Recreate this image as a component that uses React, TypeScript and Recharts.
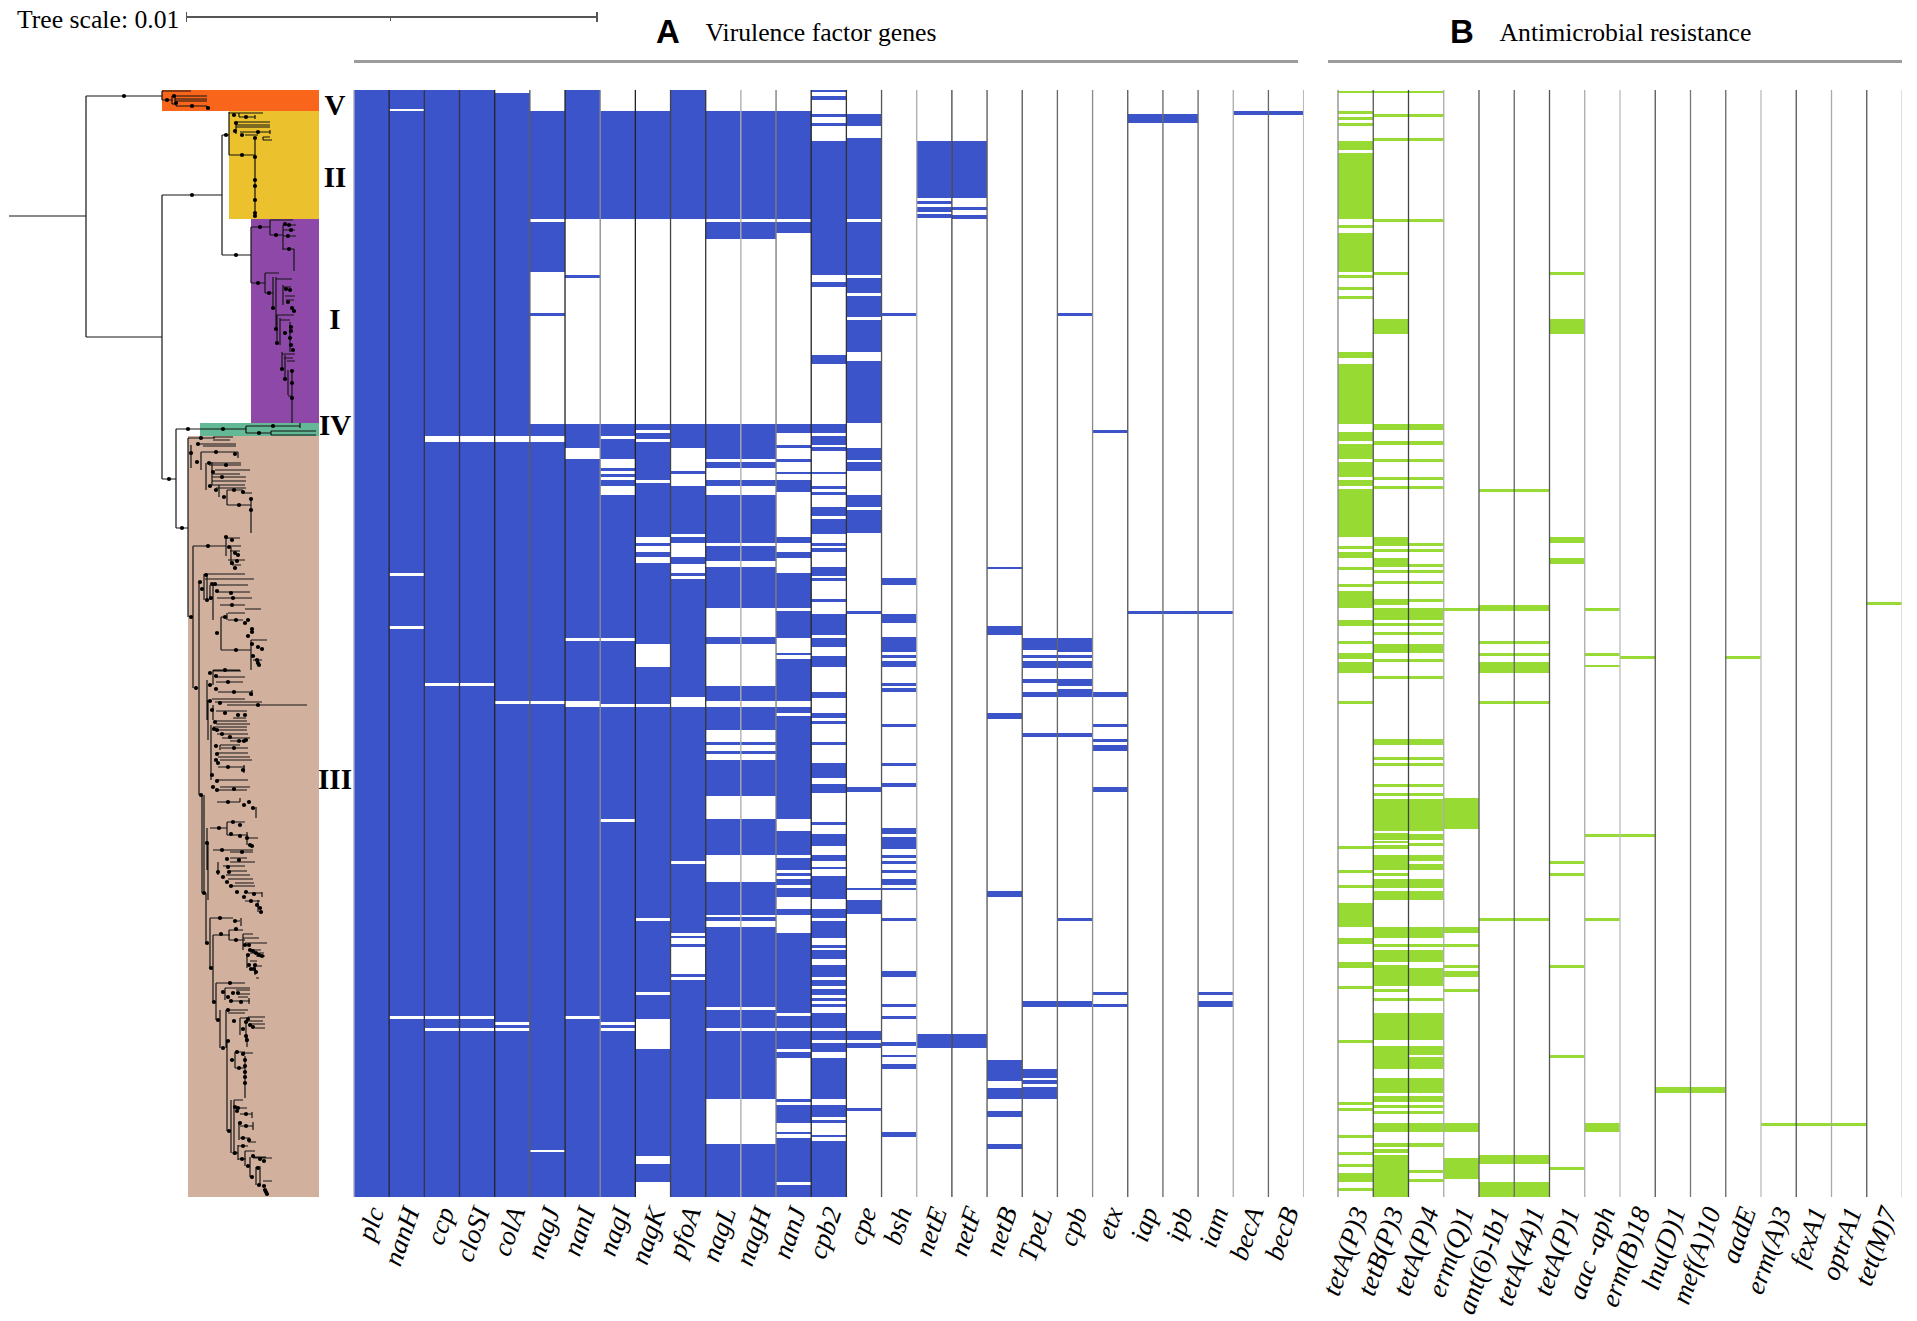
import { Bar, BarChart, ComposedChart, Line, ReferenceArea, ReferenceLine, Scatter, XAxis, YAxis } from 'recharts'

const SERIF = '"Liberation Serif", "Times New Roman", serif'
const BLUE = '#3b54c9'
const GREEN = '#96da33'

const rowCount = 1107

const virulenceGenes = ['plc', 'nanH', 'ccp', 'cloSI', 'colA', 'nagJ', 'nanI', 'nagI', 'nagK', 'pfoA', 'nagL', 'nagH', 'nanJ', 'cpb2', 'cpe', 'bsh', 'netE', 'netF', 'netB', 'TpeL', 'cpb', 'etx', 'iap', 'ipb', 'iam', 'becA', 'becB']
const resistanceGenes = ['tetA(P)3', 'tetB(P)3', 'tetA(P)4', 'erm(Q)1', 'ant(6)-Ib1', 'tetA(44)1', 'tetA(P)1', 'aac -aph', 'erm(B)18', 'lnu(D)1', 'mef(A)10', 'aadE', 'erm(A)3', 'fexA1', 'optrA1', 'tet(M)7']

const ccpRows = [[0, 346], [352, 593], [596, 926], [929, 938], [941, 1107]]
const nagLRows = [[21, 129], [132, 149], [334, 369], [372, 378], [390, 396], [405, 453], [456, 471], [477, 518], [547, 554], [596, 611], [617, 640], [652, 655], [661, 664], [670, 706], [729, 765], [792, 825], [827, 831], [837, 917], [920, 938], [941, 1009], [1054, 1107]]
const iapRows = [[24, 33], [521, 524]]
const becRows = [[21, 25]]
const netGroupRows = [[1065, 1074], [1092, 1107]]

const virulenceRows = [
  [[0, 1107]],
  [[0, 19], [21, 483], [486, 536], [539, 926], [929, 1107]],
  ccpRows,
  ccpRows,
  [[3, 346], [352, 611], [614, 932], [935, 938], [941, 1107]],
  [[21, 129], [132, 182], [223, 226], [334, 346], [352, 611], [614, 1060], [1062, 1107]],
  [[0, 129], [185, 188], [334, 358], [369, 548], [551, 611], [617, 926], [929, 1107]],
  [[21, 129], [334, 346], [349, 369], [378, 381], [384, 387], [390, 396], [405, 548], [551, 614], [617, 729], [732, 932], [935, 938], [941, 1107]],
  [[21, 129], [334, 340], [343, 349], [352, 390], [393, 447], [453, 456], [462, 467], [473, 554], [577, 614], [617, 828], [831, 902], [905, 929], [959, 1066], [1074, 1092]],
  [[0, 129], [334, 358], [381, 384], [396, 444], [447, 453], [467, 474], [483, 486], [489, 607], [617, 771], [774, 843], [846, 848], [854, 857], [884, 887], [890, 1107]],
  nagLRows,
  nagLRows,
  [[21, 129], [132, 143], [334, 343], [355, 358], [369, 372], [382, 384], [390, 402], [447, 453], [462, 468], [483, 518], [521, 548], [563, 565], [569, 611], [617, 623], [626, 729], [741, 765], [768, 780], [783, 786], [789, 795], [798, 807], [819, 825], [843, 923], [926, 938], [941, 959], [962, 968], [1009, 1012], [1015, 1033], [1042, 1044], [1048, 1092], [1095, 1107]],
  [[0, 2], [6, 10], [24, 27], [33, 36], [51, 185], [192, 197], [265, 274], [334, 343], [346, 355], [357, 361], [382, 384], [396, 399], [402, 405], [417, 426], [429, 444], [453, 456], [458, 462], [477, 486], [488, 491], [509, 512], [524, 545], [548, 557], [566, 577], [602, 608], [623, 628], [631, 634], [652, 655], [673, 688], [694, 703], [732, 735], [744, 756], [765, 771], [777, 779], [786, 809], [819, 828], [831, 848], [855, 858], [860, 869], [875, 887], [890, 896], [899, 905], [908, 911], [914, 917], [923, 938], [941, 950], [953, 962], [968, 1009], [1015, 1027], [1030, 1033], [1045, 1047], [1051, 1107]],
  [[24, 36], [48, 129], [132, 185], [188, 203], [206, 227], [230, 262], [271, 333], [358, 370], [372, 381], [405, 417], [420, 443], [521, 524], [697, 702], [798, 800], [810, 824], [941, 950], [953, 958], [1018, 1021]],
  [[223, 226], [488, 495], [524, 533], [547, 562], [565, 568], [571, 577], [593, 596], [598, 602], [634, 637], [673, 676], [693, 697], [738, 744], [747, 759], [765, 768], [771, 774], [780, 783], [789, 795], [798, 800], [828, 831], [881, 887], [914, 917], [926, 929], [952, 956], [965, 967], [974, 979], [1042, 1047]],
  [[51, 108], [111, 114], [117, 122], [124, 128], [944, 958]],
  [[51, 108], [117, 120], [125, 129], [944, 958]],
  [[477, 479], [536, 545], [623, 629], [801, 807], [970, 991], [998, 1009], [1021, 1027], [1054, 1059]],
  [[548, 560], [565, 568], [571, 578], [589, 593], [602, 607], [643, 647], [911, 917], [979, 988], [990, 994], [997, 1009]],
  [[223, 226], [548, 562], [565, 568], [571, 578], [589, 596], [599, 607], [643, 647], [828, 831], [911, 917]],
  [[340, 343], [602, 607], [634, 637], [649, 652], [655, 661], [697, 702], [902, 905], [914, 917]],
  iapRows,
  iapRows,
  [[521, 524], [902, 905], [911, 917]],
  becRows,
  becRows,
]

const tetA44Rows = [[399, 402], [515, 521], [551, 554], [563, 566], [572, 583], [611, 614], [828, 831], ...netGroupRows]
const lnuRows = [[997, 1003]]
const ermARows = [[1033, 1036]]

const resistanceRows = [
  [[1, 3], [21, 24], [27, 30], [33, 36], [51, 60], [63, 129], [135, 138], [143, 182], [185, 188], [197, 200], [206, 209], [262, 268], [274, 334], [342, 351], [354, 369], [372, 387], [390, 396], [399, 447], [456, 459], [462, 468], [477, 480], [494, 497], [501, 518], [530, 536], [551, 554], [563, 569], [572, 583], [611, 614], [756, 759], [780, 783], [795, 798], [813, 837], [848, 854], [872, 878], [896, 899], [950, 953], [1012, 1015], [1018, 1021], [1045, 1048], [1062, 1065], [1074, 1077], [1083, 1092], [1098, 1101]],
  [[1, 3], [24, 27], [48, 51], [129, 132], [182, 185], [229, 244], [334, 340], [351, 355], [369, 372], [387, 390], [396, 399], [447, 456], [459, 462], [468, 477], [480, 483], [491, 494], [509, 515], [518, 530], [533, 536], [542, 545], [554, 563], [569, 572], [586, 589], [649, 655], [667, 670], [673, 676], [694, 697], [703, 706], [709, 741], [743, 750], [751, 753], [755, 759], [765, 780], [783, 786], [789, 798], [801, 810], [837, 848], [854, 857], [860, 872], [875, 896], [899, 902], [908, 911], [923, 950], [956, 979], [988, 1003], [1006, 1012], [1015, 1018], [1021, 1024], [1033, 1042], [1053, 1057], [1059, 1063], [1065, 1107]],
  [[1, 3], [24, 27], [48, 51], [129, 132], [334, 340], [351, 355], [369, 372], [387, 390], [396, 399], [453, 456], [459, 462], [474, 477], [480, 483], [491, 494], [509, 512], [518, 530], [533, 536], [542, 545], [554, 563], [569, 572], [586, 589], [649, 655], [667, 670], [673, 676], [694, 697], [703, 706], [709, 741], [744, 750], [753, 756], [765, 771], [774, 780], [789, 798], [801, 810], [837, 848], [854, 857], [860, 872], [878, 896], [908, 911], [923, 950], [956, 965], [967, 979], [988, 1003], [1006, 1012], [1015, 1018], [1021, 1024], [1033, 1042], [1053, 1057], [1080, 1083], [1089, 1092]],
  [[518, 521], [708, 739], [837, 843], [854, 857], [875, 878], [881, 887], [899, 902], [1033, 1042], [1068, 1089]],
  tetA44Rows,
  tetA44Rows,
  [[182, 185], [229, 244], [447, 453], [468, 474], [771, 774], [783, 786], [875, 878], [965, 968], [1077, 1080]],
  [[518, 521], [563, 566], [575, 577], [744, 747], [828, 831], [1033, 1042]],
  [[566, 569], [744, 747]],
  lnuRows,
  lnuRows,
  [[566, 569]],
  ermARows,
  ermARows,
  ermARows,
  [[512, 515]],
]

// divider shades between the columns, they vary in the source
const virulenceLines = ['#aab', '#223', '#334', '#334', '#222', '#555', '#222', '#888', '#222', '#444', '#333', '#aaa', '#777', '#222', '#333', '#555', '#aaa', '#444', '#555', '#555', '#666', '#888', '#555', '#666', '#666', '#aaa', '#666', '#bbb']
const resistanceLines = ['#888', '#555', '#444', '#aaa', '#555', '#666', '#555', '#aaa', '#bbb', '#555', '#777', '#666', '#bbb', '#555', '#aaa', '#555', '#ccc']

// tree, in page pixels: horizontal [y, x1, x2], vertical [x, y1, y2]
const rootH = [[216, 9, 86], [96, 86, 162], [337, 86, 162], [195, 162, 222], [135, 222, 229], [255, 222, 251], [479, 162, 176], [429, 176, 246], [528, 176, 188], [426, 246, 300], [433, 246, 271], [431, 271, 316], [435, 271, 316]]
const rootV = [[86, 96, 337], [162, 195, 479], [222, 135, 255], [176, 429, 528], [246, 426, 433], [271, 431, 435], [300, 423, 428]]
const rootNodes = [[124, 96], [192, 195], [226, 135], [236, 255], [169, 479], [188, 429], [223, 429], [273, 426], [259, 433], [182, 528]]

const cladeVH = [[91, 162, 191], [100, 162, 172], [96, 172, 207], [99, 175, 207], [101, 175, 207], [104, 172, 176], [106, 176, 207], [108, 207, 210]]
const cladeVV = [[162, 91, 100], [172, 96, 104], [175, 96, 101], [176, 104, 106], [207, 106, 109]]
const cladeVNodes = [[167, 100], [174, 96], [176, 103], [192, 106], [208, 108]]

const cladeIIH = [[113, 229, 263], [117, 239, 255], [122, 236, 270], [125, 236, 270], [127, 236, 270], [132, 240, 270], [135, 245, 258], [137, 263, 270], [140, 263, 272], [155, 229, 255]]
const cladeIIV = [[229, 112, 155], [239, 113, 117], [255, 115, 119], [236, 122, 134], [270, 130, 134], [263, 137, 140], [255, 137, 217]]
const cladeIINodes = [[234, 115], [246, 117], [236, 123], [235, 131], [242, 135], [258, 132], [255, 138], [242, 155], [255, 157], [255, 180], [255, 186], [255, 200], [255, 213], [255, 216]]

const cladeIH = [[227, 251, 270], [220, 270, 293], [235, 270, 283], [225, 283, 296], [230, 283, 295], [236, 283, 296], [249, 283, 294], [283, 251, 265], [273, 265, 279], [293, 265, 273], [279, 276, 292], [287, 283, 291], [296, 285, 295], [300, 286, 294], [315, 276, 294], [320, 280, 290], [354, 282, 295], [358, 284, 293], [361, 287, 295], [396, 288, 292]]
const cladeIV = [[251, 227, 283], [270, 220, 235], [283, 225, 250], [294, 249, 271], [265, 273, 293], [273, 277, 308], [276, 277, 330], [283, 285, 305], [277, 315, 345], [280, 318, 345], [290, 322, 352], [282, 352, 370], [285, 355, 380], [288, 370, 395], [292, 371, 423]]
const cladeINodes = [[260, 227], [276, 235], [285, 224], [289, 225], [291, 230], [288, 236], [289, 249], [258, 283], [269, 293], [286, 289], [290, 290], [288, 302], [292, 308], [294, 311], [273, 308], [276, 329], [291, 327], [291, 331], [285, 333], [290, 338], [291, 345], [293, 350], [277, 343], [282, 369], [285, 379], [292, 371], [292, 383], [292, 398]]

const cladeIIIUpperH = [[438, 188, 215], [437, 213, 233], [440, 213, 230], [444, 198, 236], [446, 203, 236], [452, 201, 238], [463, 209, 241], [465, 209, 241], [470, 215, 250], [474, 212, 240], [477, 212, 246], [481, 212, 246], [485, 212, 245], [488, 216, 246], [490, 227, 243], [493, 243, 252], [505, 227, 251], [546, 193, 226], [538, 226, 240], [546, 230, 241], [551, 230, 240], [560, 228, 245], [565, 232, 241], [574, 205, 245], [579, 205, 254], [585, 213, 248], [592, 217, 250], [598, 217, 252], [605, 220, 245], [609, 245, 261], [613, 228, 245], [617, 221, 226], [620, 228, 243], [650, 221, 251], [640, 251, 267], [660, 253, 262]]
const cladeIIIUpperV = [[188, 438, 617], [191, 445, 468], [201, 452, 470], [206, 463, 490], [238, 452, 458], [212, 462, 485], [219, 485, 497], [227, 490, 505], [251, 497, 533], [193, 546, 688], [226, 537, 556], [231, 547, 565], [199, 583, 795], [204, 574, 600], [207, 575, 600], [210, 585, 600], [213, 585, 620], [221, 617, 650], [227, 613, 620], [251, 640, 670]]
const cladeIIIUpperNodes = [[201, 438], [198, 444], [191, 453], [216, 452], [235, 454], [197, 462], [209, 463], [226, 465], [213, 472], [222, 477], [210, 486], [216, 490], [224, 497], [234, 490], [243, 492], [239, 505], [251, 499], [251, 510], [208, 546], [226, 537], [232, 540], [229, 547], [235, 553], [238, 555], [237, 561], [232, 563], [235, 568], [191, 617], [200, 582], [206, 575], [202, 589], [212, 584], [215, 584], [217, 591], [231, 593], [233, 598], [232, 605], [207, 600], [211, 598], [225, 617], [236, 620], [248, 620], [245, 623], [252, 629], [252, 632], [248, 636], [217, 633], [236, 650], [252, 644], [258, 647], [262, 649], [253, 656], [257, 660], [258, 663], [259, 665], [196, 688]]

const cladeIIIMiddleH = [[670, 213, 240], [671, 213, 241], [677, 216, 245], [682, 216, 243], [692, 218, 252], [699, 212, 245], [702, 215, 262], [705, 227, 307], [711, 216, 247], [718, 233, 246], [721, 216, 247], [724, 216, 250], [727, 213, 247], [730, 216, 247], [734, 217, 248], [738, 222, 250], [741, 230, 246], [745, 220, 240], [748, 221, 248], [753, 218, 248], [757, 218, 250], [760, 220, 252], [767, 218, 245], [780, 217, 248], [787, 220, 250], [790, 218, 247], [802, 217, 240]]
const cladeIIIMiddleV = [[207, 680, 720], [213, 670, 685], [252, 690, 696], [213, 705, 720], [208, 700, 740], [211, 725, 780], [220, 745, 750], [244, 765, 773], [240, 798, 802], [256, 807, 818], [202, 795, 893]]
const cladeIIIMiddleNodes = [[210, 673], [216, 676], [225, 670], [228, 682], [210, 685], [216, 689], [234, 692], [251, 694], [210, 701], [220, 703], [258, 705], [212, 710], [225, 713], [238, 715], [245, 715], [215, 722], [214, 729], [217, 730], [222, 734], [230, 737], [239, 741], [244, 741], [246, 740], [216, 746], [234, 748], [217, 754], [216, 760], [218, 763], [228, 767], [243, 770], [212, 775], [217, 781], [213, 787], [217, 790], [234, 789], [228, 802], [249, 802], [244, 805], [253, 808], [201, 795]]

const cladeIIILowerH = [[828, 210, 227], [822, 227, 245], [835, 227, 248], [838, 248, 258], [850, 213, 253], [852, 230, 253], [858, 230, 247], [862, 230, 255], [866, 223, 245], [871, 228, 247], [875, 226, 250], [879, 228, 253], [883, 235, 254], [886, 230, 255], [893, 248, 262], [901, 245, 260], [918, 210, 233], [921, 234, 240], [935, 213, 230], [930, 229, 243], [940, 229, 245], [934, 243, 253], [938, 243, 259], [943, 245, 267], [950, 250, 261], [953, 250, 264], [956, 256, 265], [961, 250, 257], [966, 253, 262], [978, 256, 259], [983, 216, 245], [988, 225, 250], [990, 236, 250], [994, 238, 250], [997, 238, 248], [1001, 232, 250], [1010, 226, 248], [1013, 228, 245], [1018, 240, 247], [1017, 248, 265], [1021, 247, 263], [1024, 250, 265], [1028, 255, 265], [1052, 235, 245], [1053, 243, 253], [1068, 235, 245], [1100, 234, 243], [1108, 239, 247], [1114, 240, 252], [1126, 240, 253], [1138, 240, 250], [1142, 248, 256], [1153, 232, 238], [1146, 238, 248], [1159, 238, 246], [1151, 245, 255], [1157, 253, 266], [1158, 253, 272], [1167, 256, 261], [1181, 263, 272]]
const cladeIIILowerV = [[204, 795, 893], [206, 893, 943], [207, 828, 870], [227, 822, 835], [247, 832, 845], [208, 843, 900], [218, 862, 875], [262, 892, 897], [258, 900, 912], [210, 918, 968], [241, 918, 926], [213, 935, 1002], [229, 930, 940], [243, 934, 950], [247, 955, 968], [255, 965, 975], [216, 983, 1020], [225, 988, 1000], [249, 998, 1004], [220, 1010, 1048], [226, 1010, 1048], [240, 1018, 1035], [246, 1022, 1042], [247, 1036, 1047], [227, 1040, 1131], [235, 1052, 1068], [245, 1056, 1098], [231, 1100, 1153], [234, 1100, 1155], [252, 1112, 1118], [253, 1122, 1130], [239, 1122, 1140], [238, 1145, 1160], [245, 1151, 1166], [250, 1157, 1177], [256, 1167, 1185], [260, 1168, 1185]]
const cladeIIILowerNodes = [[207, 843], [219, 828], [233, 822], [240, 825], [231, 834], [240, 836], [247, 838], [250, 845], [252, 846], [222, 850], [242, 852], [227, 859], [239, 860], [218, 872], [228, 867], [229, 872], [223, 877], [227, 882], [231, 886], [237, 892], [246, 892], [244, 897], [254, 894], [251, 901], [257, 905], [260, 908], [261, 912], [204, 893], [207, 943], [220, 918], [235, 921], [211, 968], [221, 934], [236, 929], [236, 940], [245, 945], [249, 945], [250, 950], [253, 951], [256, 953], [259, 955], [262, 956], [248, 955], [249, 965], [251, 969], [254, 969], [255, 965], [256, 972], [214, 1002], [218, 1020], [230, 983], [223, 992], [233, 993], [238, 993], [228, 997], [231, 1001], [241, 1002], [228, 1010], [223, 1048], [234, 1021], [248, 1019], [246, 1022], [243, 1029], [250, 1025], [253, 1027], [246, 1036], [247, 1040], [228, 1041], [232, 1060], [237, 1052], [243, 1054], [239, 1068], [245, 1060], [245, 1066], [245, 1072], [245, 1077], [245, 1083], [229, 1131], [235, 1107], [238, 1108], [237, 1111], [246, 1114], [240, 1123], [246, 1126], [243, 1138], [249, 1140], [235, 1153], [243, 1146], [242, 1159], [253, 1156], [260, 1159], [264, 1161], [248, 1166], [252, 1177], [258, 1168], [259, 1185], [264, 1186], [265, 1190], [266, 1192], [267, 1194]]

const horizontalBranches = [...rootH, ...cladeVH, ...cladeIIH, ...cladeIH, ...cladeIIIUpperH, ...cladeIIIMiddleH, ...cladeIIILowerH]
const verticalBranches = [...rootV, ...cladeVV, ...cladeIIV, ...cladeIV, ...cladeIIIUpperV, ...cladeIIIMiddleV, ...cladeIIILowerV]
const treeNodes = [...rootNodes, ...cladeVNodes, ...cladeIINodes, ...cladeINodes, ...cladeIIIUpperNodes, ...cladeIIIMiddleNodes, ...cladeIIILowerNodes]

const clades = [
  { name: 'V', fill: '#f9651a', x1: 162, y1: 90, y2: 111, labelY: 105 },
  { name: 'II', fill: '#ebc12e', x1: 229, y1: 111, y2: 219, labelY: 177 },
  { name: 'I', fill: '#8e49a8', x1: 251, y1: 219, y2: 423, labelY: 319 },
  { name: 'IV', fill: '#63b996', x1: 200, y1: 423, y2: 436, labelY: 425 },
  { name: 'III', fill: '#d1b19e', x1: 188, y1: 436, y2: 1197, labelY: 779 },
]

// one null point after each branch so the line lifts between them
const branchPath: { x: number; y: number | null }[] = []
horizontalBranches.forEach(([y, x1, x2]) => branchPath.push({ x: x1, y }, { x: x2, y }, { x: x2, y: null }))
verticalBranches.forEach(([x, y1, y2]) => branchPath.push({ x, y: y1 }, { x, y: y2 }, { x, y: null }))
const nodePoints = treeNodes.map(([x, y]) => ({ x, y }))

function buildRows(names: string[], spans: number[][][]) {
  const most = Math.max(...spans.map((s) => s.length))
  const rows = names.map((gene, i) => {
    const row: Record<string, number | string> = { gene, column: i }
    let pos = 0
    for (let k = 0; k < most; k++) {
      const span = spans[i][k]
      row[`gap${k}`] = span ? span[0] - pos : 0
      row[`on${k}`] = span ? span[1] - span[0] : 0
      if (span) pos = span[1]
    }
    return row
  })
  return { rows, most }
}

function GeneTick({ x, y, payload }: any) {
  const px = x + 13
  const py = y + 6
  return (
    <text x={px} y={py} transform={`rotate(-71 ${px} ${py})`} textAnchor="end" fontFamily={SERIF} fontStyle="italic" fontSize={27} fill="#000">
      {payload.value}
    </text>
  )
}

// room left of the first column so its slanted label is not clipped
const LABEL_ROOM = 60

function PresenceChart({ names, spans, color, lines, left, width }: { names: string[]; spans: number[][][]; color: string; lines: string[]; left: number; width: number }) {
  const { rows, most } = buildRows(names, spans)
  const keys = Array.from({ length: most }, (_, k) => k)
  return (
    <div style={{ position: 'absolute', left: left - LABEL_ROOM, top: 90 }}>
      <BarChart width={width + LABEL_ROOM} height={1231} data={rows} margin={{ top: 0, right: 0, bottom: 0, left: LABEL_ROOM }} barCategoryGap={0} barGap={0}>
        <XAxis dataKey="gene" interval={0} height={124} axisLine={false} tickLine={false} tick={<GeneTick />} />
        <XAxis xAxisId="cols" dataKey="column" type="number" domain={[0, names.length]} allowDataOverflow hide />
        <YAxis hide reversed type="number" domain={[0, rowCount]} allowDataOverflow />
        {keys.flatMap((k) => [
          <Bar key={`gap${k}`} dataKey={`gap${k}`} stackId="rows" fill="none" isAnimationActive={false} />,
          <Bar key={`on${k}`} dataKey={`on${k}`} stackId="rows" fill={color} isAnimationActive={false} />,
        ])}
        {lines.map((stroke, i) => (
          <ReferenceLine key={i} xAxisId="cols" x={i} stroke={stroke} strokeWidth={1.3} ifOverflow="visible" />
        ))}
      </BarChart>
    </div>
  )
}

function TreeChart() {
  return (
    <div style={{ position: 'absolute', left: 0, top: 90 }}>
      <ComposedChart width={319} height={1107} margin={{ top: 0, right: 0, bottom: 0, left: 0 }}>
        <XAxis type="number" dataKey="x" domain={[0, 319]} hide allowDataOverflow />
        <YAxis type="number" dataKey="y" domain={[90, 1197]} reversed hide allowDataOverflow />
        {clades.map((c) => (
          <ReferenceArea key={c.name} x1={c.x1} x2={319} y1={c.y1} y2={c.y2} fill={c.fill} fillOpacity={1} stroke="none" />
        ))}
        <Line data={branchPath} dataKey="y" type="linear" stroke="#151515" strokeWidth={1.2} dot={false} connectNulls={false} isAnimationActive={false} />
        <Scatter data={nodePoints} dataKey="y" fill="#000" isAnimationActive={false} shape={(p: any) => <circle cx={p.cx} cy={p.cy} r={2.1} fill="#000" />} />
      </ComposedChart>
    </div>
  )
}

function Abs({ left, top, style, children }: { left: number; top: number; style?: React.CSSProperties; children?: React.ReactNode }) {
  return <div style={{ position: 'absolute', left, top, whiteSpace: 'nowrap', ...style }}>{children}</div>
}

export default function App() {
  return (
    <div style={{ position: 'absolute', left: 0, top: 0, width: 1917, height: 1321, background: '#fff', fontFamily: SERIF, color: '#000' }}>
      <Abs left={17} top={6} style={{ fontSize: 25.7, lineHeight: '28px' }}>Tree scale: 0.01</Abs>
      <Abs left={186} top={16} style={{ width: 411, height: 1.5, background: '#555' }} />
      <Abs left={185.5} top={12} style={{ width: 1.5, height: 10, background: '#555' }} />
      <Abs left={390} top={17} style={{ width: 1, height: 4, background: '#555' }} />
      <Abs left={596} top={12} style={{ width: 1.5, height: 10, background: '#555' }} />

      <Abs left={656} top={13} style={{ fontFamily: '"Liberation Sans", Arial, sans-serif', fontWeight: 700, fontSize: 33, lineHeight: '38px' }}>A</Abs>
      <Abs left={705.5} top={18} style={{ fontSize: 25.7, lineHeight: '30px' }}>Virulence factor genes</Abs>
      <Abs left={1450} top={13} style={{ fontFamily: '"Liberation Sans", Arial, sans-serif', fontWeight: 700, fontSize: 33, lineHeight: '38px' }}>B</Abs>
      <Abs left={1499.5} top={18} style={{ fontSize: 25.7, lineHeight: '30px' }}>Antimicrobial resistance</Abs>
      <Abs left={354} top={60} style={{ width: 944, height: 3, background: '#9c9c9c' }} />
      <Abs left={1328} top={60} style={{ width: 574, height: 3, background: '#9c9c9c' }} />

      <TreeChart />
      {clades.map((c) => (
        <Abs key={c.name} left={300} top={c.labelY - 20} style={{ width: 70, textAlign: 'center', fontWeight: 700, fontSize: 29, lineHeight: '40px' }}>
          {c.name}
        </Abs>
      ))}

      <PresenceChart names={virulenceGenes} spans={virulenceRows} color={BLUE} lines={virulenceLines} left={354.2} width={949.6} />
      <PresenceChart names={resistanceGenes} spans={resistanceRows} color={GREEN} lines={resistanceLines} left={1338.2} width={564} />
    </div>
  )
}
